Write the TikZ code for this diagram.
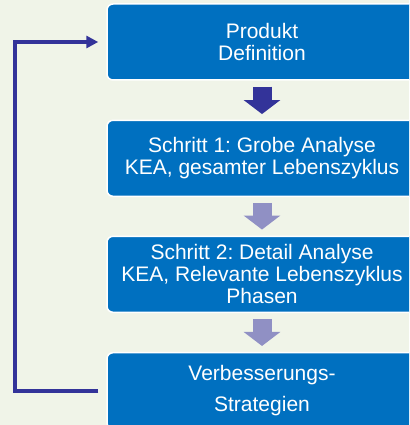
\documentclass[tikz,border=0pt]{standalone}
\usepackage{fontspec}
\setmainfont{Liberation Sans}
\frenchspacing
\usetikzlibrary{arrows.meta}
\definecolor{bgpale}{HTML}{F0F4E8}
\definecolor{boxblue}{HTML}{0070C0}
\definecolor{darkarrow}{HTML}{333399}
\definecolor{lightarrow}{HTML}{9090C4}
\begin{document}
\begin{tikzpicture}[x=1pt, y=-1pt,
    every node/.style={rectangle, rounded corners=6pt, draw=white, line width=1.5pt,
        fill=boxblue, text=white, minimum width=310pt, minimum height=76pt, inner sep=0pt,
        align=center, font=\fontsize{21}{22}\selectfont},
    blockarrow/.style={line width=19pt, -{Triangle[width=36pt, length=14pt]}},
    backline/.style={darkarrow, line width=4pt, line join=miter, -{Triangle[width=12pt, length=12pt]}}]
            \useasboundingbox (0,0) rectangle (409,425);
            \clip (0,0) rectangle (409,425);
            \fill[bgpale] (0,0) rectangle (409,425);

            % Nodes
            \node (def) at (262,42) {Produkt\\Definition};
            \node (grob) at (262,158.3) {Schritt 1: Grobe Analyse\\KEA, gesamter Lebenszyklus};
            \node (detail) at (262,274.3) {Schritt 2: Detail Analyse\\KEA, Relevante Lebenszyklus\\Phasen};
            \node (strat) at (262,390.7) {Verbesserungs-\\[9pt]Strategien};

            % Edges
            \draw[blockarrow, darkarrow] ([yshift=-6pt]def.south) -- ([yshift=5.5pt]grob.north);
            \foreach \a/\b in {grob/detail, detail/strat} {
                \draw[blockarrow, lightarrow] ([yshift=-5.7pt]\a.south) -- ([yshift=6pt]\b.north);
            }

            % feedback
            \draw[backline] ([xshift=-8pt]strat.west) -- ++(-83.7,0) |- ([xshift=-8pt]def.west);
        \end{tikzpicture}
\end{document}
